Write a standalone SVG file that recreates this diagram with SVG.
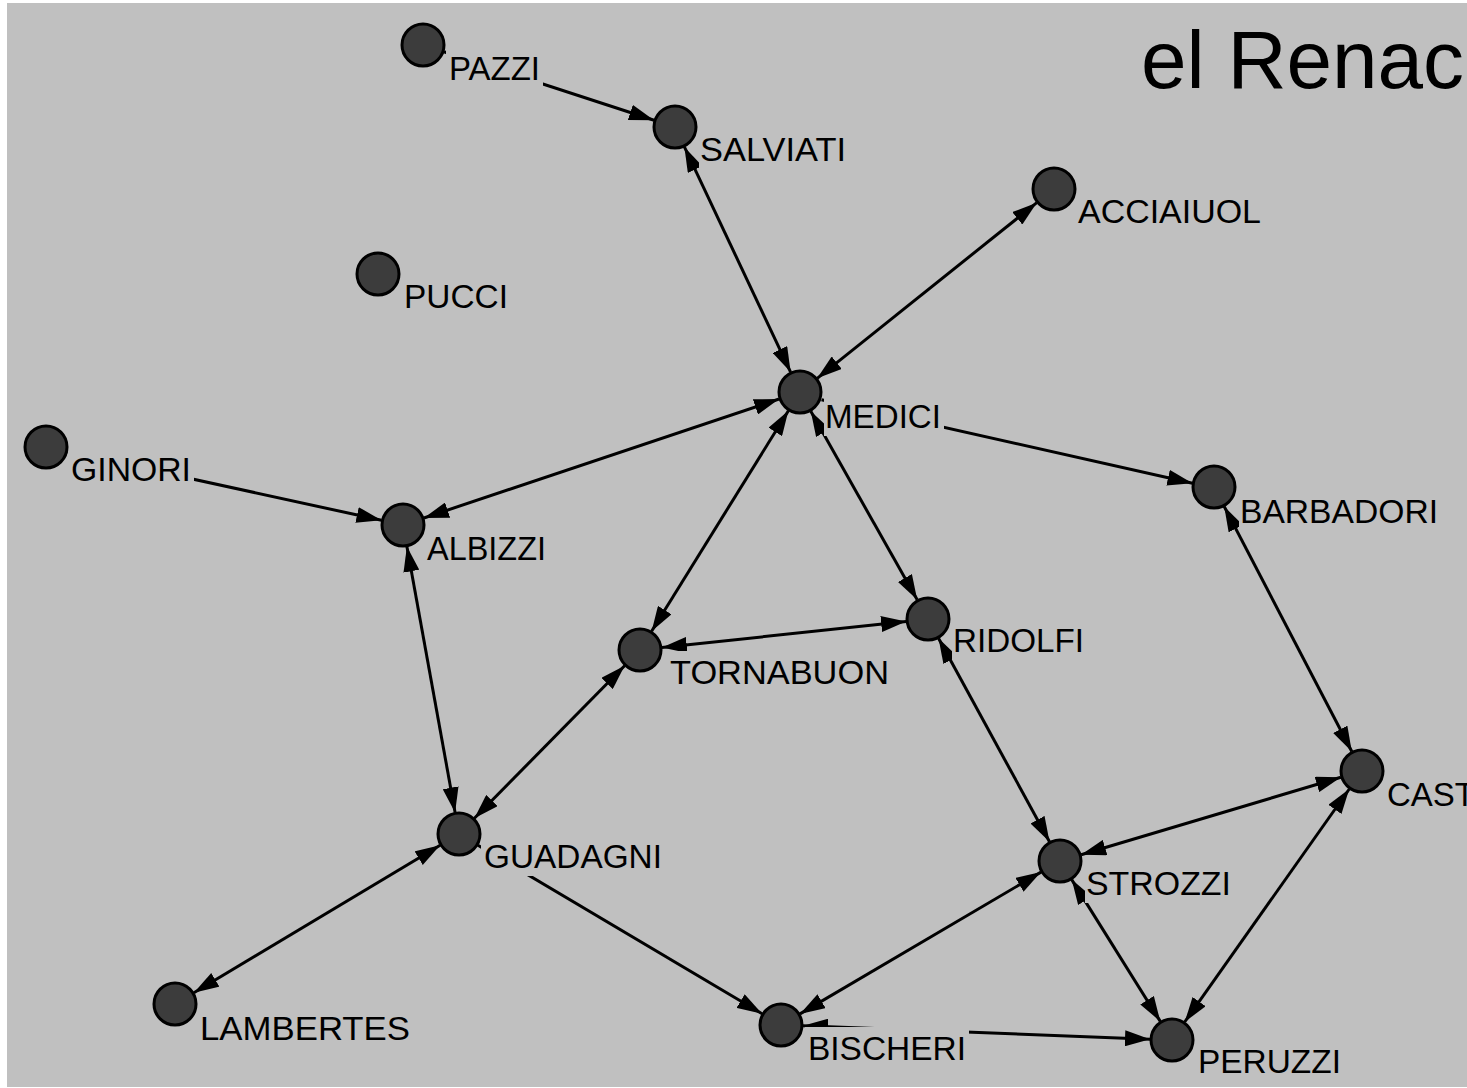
<svg xmlns="http://www.w3.org/2000/svg" width="1467" height="1088" viewBox="0 0 1467 1088">
<style>
.bg{fill:#c0c0c0}
.e line{stroke:#000;stroke-width:3;fill:none}
.n circle{fill:#3c3c3c;stroke:#000;stroke-width:3}
.n rect{fill:#c0c0c0}
.n text{font-family:"Liberation Sans",Arial,sans-serif;font-size:33px;fill:#000}
.title{font-family:"Liberation Sans",Arial,sans-serif;font-size:82px;fill:#000}
</style>
<defs>
<marker id="ah" viewBox="0 -8 25 16" refX="25" refY="0" markerWidth="25" markerHeight="16" markerUnits="userSpaceOnUse" orient="auto-start-reverse"><path d="M0,-8 L25,0 L0,8 z" fill="#000"/></marker>
</defs>
<rect x="0" y="0" width="1467" height="1088" fill="#ffffff"/>
<rect class="bg" x="7" y="3" width="1460" height="1084"/>
<text class="title" x="1141" y="88" textLength="323" lengthAdjust="spacingAndGlyphs">el Renac</text>
<g id="edges" class="e">
<line x1="443.9" y1="51.8" x2="654.1" y2="120.2" marker-end="url(#ah)"/>
<line x1="684.4" y1="146.9" x2="790.6" y2="372.1" marker-start="url(#ah)" marker-end="url(#ah)"/>
<line x1="1036.8" y1="202.7" x2="817.2" y2="378.3" marker-start="url(#ah)" marker-end="url(#ah)"/>
<line x1="779.1" y1="399" x2="423.9" y2="518" marker-start="url(#ah)" marker-end="url(#ah)"/>
<line x1="67.5" y1="451.7" x2="381.5" y2="520.3" marker-end="url(#ah)"/>
<line x1="821.5" y1="399.8" x2="1192.5" y2="483.2" marker-end="url(#ah)"/>
<line x1="788.4" y1="410.7" x2="651.6" y2="631.3" marker-start="url(#ah)" marker-end="url(#ah)"/>
<line x1="810.8" y1="411.2" x2="917.2" y2="599.8" marker-start="url(#ah)" marker-end="url(#ah)"/>
<line x1="661.9" y1="647.6" x2="906.1" y2="621.4" marker-start="url(#ah)" marker-end="url(#ah)"/>
<line x1="406.9" y1="546.6" x2="455.1" y2="812.4" marker-start="url(#ah)" marker-end="url(#ah)"/>
<line x1="624.6" y1="665.7" x2="474.4" y2="818.3" marker-start="url(#ah)" marker-end="url(#ah)"/>
<line x1="1224.2" y1="506.5" x2="1351.8" y2="751.5" marker-start="url(#ah)" marker-end="url(#ah)"/>
<line x1="938.5" y1="638.3" x2="1049.5" y2="841.7" marker-start="url(#ah)" marker-end="url(#ah)"/>
<line x1="1340.9" y1="777.3" x2="1081.1" y2="854.7" marker-start="url(#ah)" marker-end="url(#ah)"/>
<line x1="1349.3" y1="789" x2="1184.7" y2="1022" marker-start="url(#ah)" marker-end="url(#ah)"/>
<line x1="440.1" y1="845.3" x2="193.9" y2="992.7" marker-start="url(#ah)" marker-end="url(#ah)"/>
<line x1="477.9" y1="845.2" x2="762.1" y2="1013.8" marker-end="url(#ah)"/>
<line x1="1041" y1="872.1" x2="800" y2="1013.9" marker-start="url(#ah)" marker-end="url(#ah)"/>
<line x1="1071.7" y1="879.6" x2="1160.3" y2="1021.4" marker-start="url(#ah)" marker-end="url(#ah)"/>
<line x1="803" y1="1025.8" x2="1150" y2="1039.2" marker-start="url(#ah)" marker-end="url(#ah)"/>
</g>
<g id="PAZZI" class="n"><rect x="446" y="47" width="97" height="41"/><text x="449" y="80" textLength="91" lengthAdjust="spacingAndGlyphs">PAZZI</text><circle cx="423" cy="45" r="21"/></g>
<g id="SALVIATI" class="n"><rect x="699" y="128" width="150" height="41"/><text x="700" y="161" textLength="146" lengthAdjust="spacingAndGlyphs">SALVIATI</text><circle cx="675" cy="127" r="21"/></g>
<g id="ACCIAIUOL" class="n"><rect x="1075" y="190" width="189" height="41"/><text x="1078" y="223" textLength="183" lengthAdjust="spacingAndGlyphs">ACCIAIUOL</text><circle cx="1054" cy="189" r="21"/></g>
<g id="PUCCI" class="n"><rect x="401" y="275" width="110" height="41"/><text x="404" y="308" textLength="104" lengthAdjust="spacingAndGlyphs">PUCCI</text><circle cx="378" cy="274" r="21"/></g>
<g id="MEDICI" class="n"><rect x="824" y="395" width="120" height="41"/><text x="825" y="428" textLength="116" lengthAdjust="spacingAndGlyphs">MEDICI</text><circle cx="800" cy="392" r="21"/></g>
<g id="GINORI" class="n"><rect x="68" y="448" width="126" height="41"/><text x="71" y="481" textLength="120" lengthAdjust="spacingAndGlyphs">GINORI</text><circle cx="46" cy="447" r="21"/></g>
<g id="ALBIZZI" class="n"><rect x="424" y="527" width="125" height="41"/><text x="427" y="560" textLength="119" lengthAdjust="spacingAndGlyphs">ALBIZZI</text><circle cx="403" cy="525" r="21"/></g>
<g id="BARBADORI" class="n"><rect x="1239" y="490" width="202" height="41"/><text x="1240" y="523" textLength="198" lengthAdjust="spacingAndGlyphs">BARBADORI</text><circle cx="1214" cy="487" r="21"/></g>
<g id="RIDOLFI" class="n"><rect x="952" y="619" width="135" height="41"/><text x="953" y="652" textLength="131" lengthAdjust="spacingAndGlyphs">RIDOLFI</text><circle cx="928" cy="619" r="21"/></g>
<g id="TORNABUON" class="n"><rect x="667" y="651" width="225" height="41"/><text x="670" y="684" textLength="219" lengthAdjust="spacingAndGlyphs">TORNABUON</text><circle cx="640" cy="650" r="21"/></g>
<g id="CASTELLAN" class="n"><rect x="1384" y="773" width="83" height="41"/><text x="1387" y="806">CAST</text><circle cx="1362" cy="771" r="21"/></g>
<g id="GUADAGNI" class="n"><rect x="481" y="835" width="184" height="41"/><text x="484" y="868" textLength="178" lengthAdjust="spacingAndGlyphs">GUADAGNI</text><circle cx="459" cy="834" r="21"/></g>
<g id="STROZZI" class="n"><rect x="1085" y="862" width="149" height="41"/><text x="1086" y="895" textLength="145" lengthAdjust="spacingAndGlyphs">STROZZI</text><circle cx="1060" cy="861" r="21"/></g>
<g id="LAMBERTES" class="n"><rect x="197" y="1007" width="216" height="41"/><text x="200" y="1040" textLength="210" lengthAdjust="spacingAndGlyphs">LAMBERTES</text><circle cx="175" cy="1004" r="21"/></g>
<g id="BISCHERI" class="n"><rect x="805" y="1027" width="164" height="41"/><text x="808" y="1060" textLength="158" lengthAdjust="spacingAndGlyphs">BISCHERI</text><circle cx="781" cy="1025" r="21"/></g>
<g id="PERUZZI" class="n"><rect x="1195" y="1040" width="149" height="41"/><text x="1198" y="1073" textLength="143" lengthAdjust="spacingAndGlyphs">PERUZZI</text><circle cx="1172" cy="1040" r="21"/></g>
</svg>
